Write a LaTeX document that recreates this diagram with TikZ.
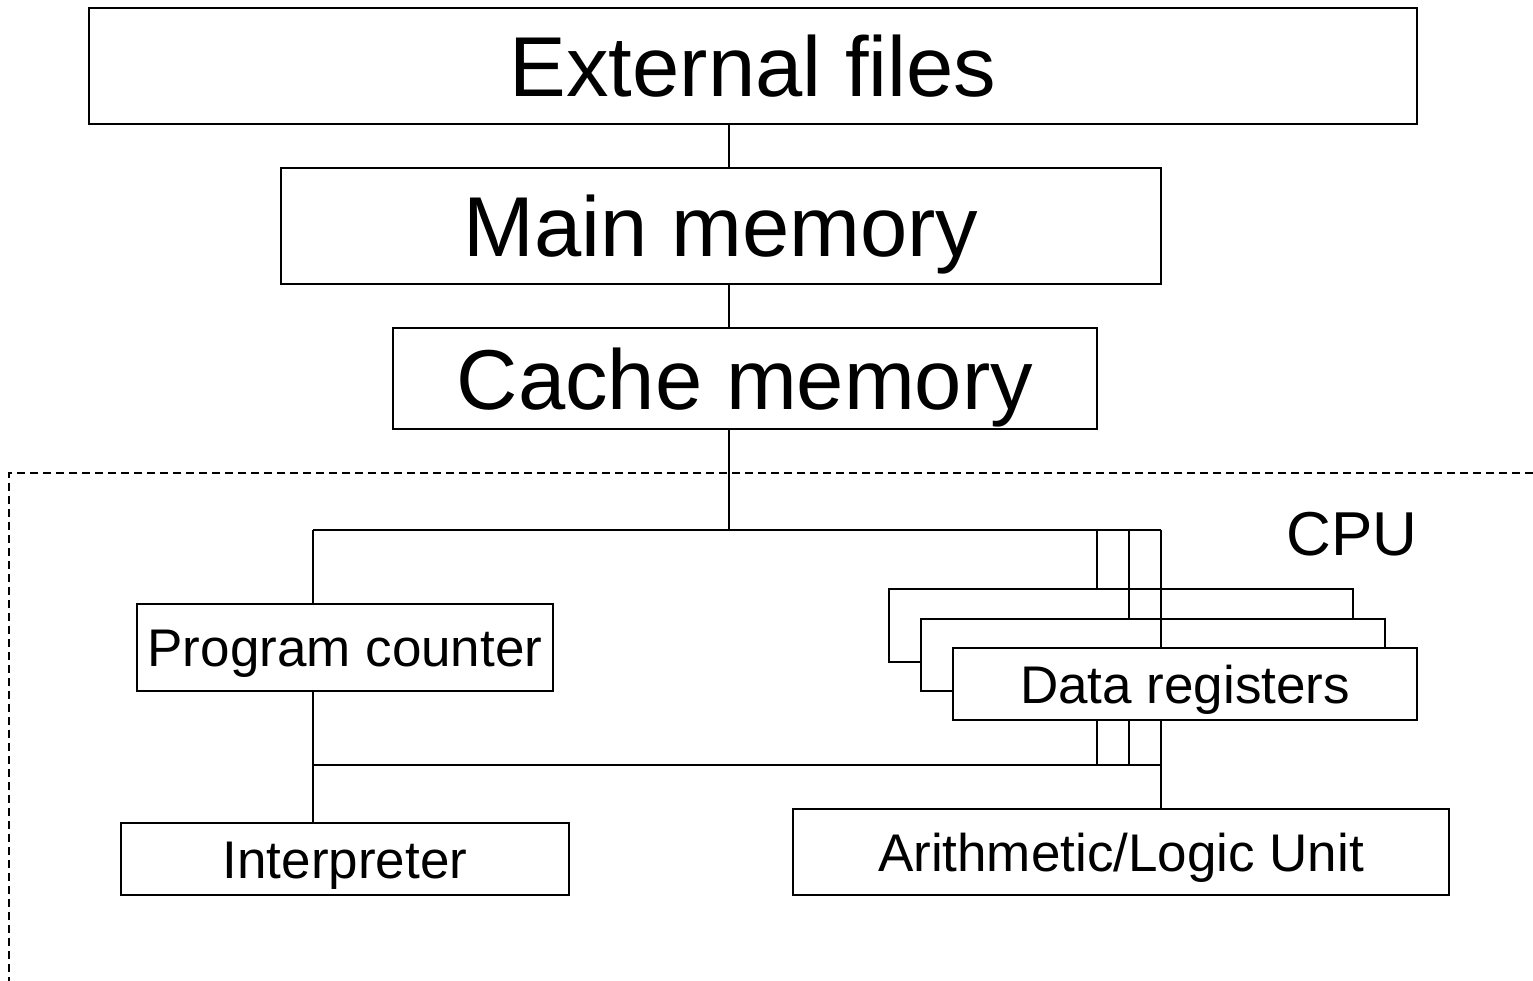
\documentclass[tikz,border=0pt]{standalone}
\usepackage{fontspec}
\setmainfont{Liberation Sans}
\begin{document}
\begin{tikzpicture}[x=1pt,y=-1pt,line width=1.8pt,
  box/.style={draw,rectangle,inner sep=0pt,fill=white,text depth=0pt},
  big/.style={font=\fontsize{85}{100}\selectfont,text height=61pt},
  small/.style={font=\fontsize{53}{64}\selectfont,text height=38pt},
  cpuarea/.style={dashed,dash pattern=on 8pt off 5pt,line width=1.6pt}]
\useasboundingbox (0,0) rectangle (1533,981);
% CPU region
\draw[cpuarea] (1533,473) -- (9,473) -- (9,981);
\node[font=\fontsize{62}{74}\selectfont,text height=44pt,text depth=0pt,inner sep=0pt] (cpu) at (1352,533) {CPU};
% memory hierarchy
\node[box,big,minimum width=1328pt,minimum height=116pt] (ext) at (753,66) {External files};
\node[box,big,minimum width=880pt,minimum height=116pt] (main) at (721,226) {Main memory};
\node[box,big,minimum width=704pt,minimum height=101pt] (cache) at (745,378.5) {Cache memory};
\coordinate (j1) at (729,530);
\coordinate (jL) at (313,530);
\coordinate (a1) at (1097,530);
\coordinate (a2) at (1129,530);
\coordinate (jR) at (1161,530);
\coordinate (kL) at (313,765);
\coordinate (b1) at (1097,765);
\coordinate (b2) at (1129,765);
\coordinate (kR) at (1161,765);
\draw (ext.south -| j1) -- (main.north -| j1);
\draw (main.south -| j1) -- (cache.north -| j1);
\draw (cache.south -| j1) -- (j1);
\draw (jL) -- (jR);
% CPU parts
\node[box,small,minimum width=416pt,minimum height=87pt] (pc) at (345,647.5) {Program counter};
\node[box,small,minimum width=448pt,minimum height=72pt] (interp) at (345,859) {Interpreter};
\node[box,small,minimum width=656pt,minimum height=86pt] (alu) at (1121,852) {Arithmetic/Logic Unit};
\draw (jL) -- (pc.north -| jL);
\draw (pc.south -| kL) -- (kL) -- (interp.north -| kL);
\draw (kL) -- (kR) -- (alu.north -| kR);
% data registers stack
\node[box,minimum width=464pt,minimum height=73pt] (dr1) at (1121,625.5) {};
\draw (a1) -- (dr1.north -| a1);
\draw (dr1.south -| b1) -- (b1);
\node[box,minimum width=464pt,minimum height=72pt] (dr2) at (1153,655) {};
\draw (a2) -- (dr2.north -| a2);
\draw (dr2.south -| b2) -- (b2);
\node[box,small,minimum width=464pt,minimum height=72pt] (dr3) at (1185,684) {Data registers};
\draw (jR) -- (dr3.north -| jR);
\draw (dr3.south -| kR) -- (kR);
\end{tikzpicture}
\end{document}
